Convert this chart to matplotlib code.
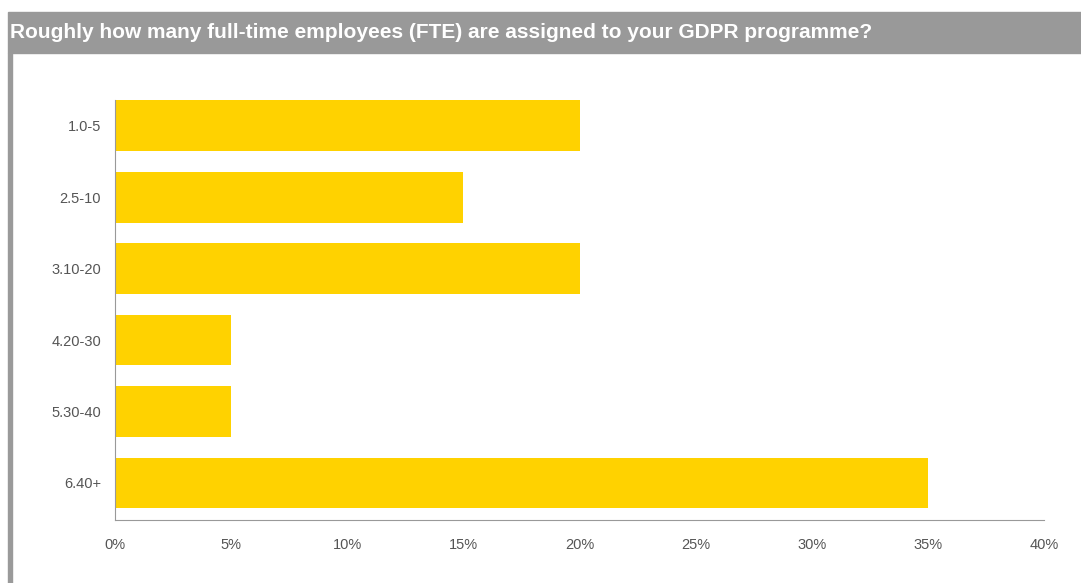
import matplotlib.pyplot as plt
from matplotlib.patches import Rectangle

# survey answers, share of respondents (%)
categories = ["1.0-5", "2.5-10", "3.10-20", "4.20-30", "5.30-40", "6.40+"]
shares = [20, 15, 20, 5, 5, 35]
x_ticks = [0, 5, 10, 15, 20, 25, 30, 35, 40]
title = "Roughly how many full-time employees (FTE) are assigned to your GDPR programme?"

plt.rcParams["font.family"] = ["Liberation Sans", "DejaVu Sans"]

W, H = 1081, 583
fig = plt.figure(figsize=(W / 100, H / 100), dpi=100)

# panel frame: grey header strip and left border
fig.patches.append(Rectangle((8 / W, 1 - 53 / H), 1 - 8 / W, 41 / H,
                             transform=fig.transFigure, color="#999999", zorder=0))
fig.patches.append(Rectangle((8 / W, 0), 4 / W, 1 - 53 / H,
                             transform=fig.transFigure, color="#9a9a9a", zorder=0))
fig.text(10 / W, 1 - 33 / H, title, color="white", fontsize=15, fontweight="bold",
         va="center", ha="left")

ax = fig.add_axes([115 / W, 1 - 520 / H, (1044 - 115) / W, 420 / H])
ax.barh(range(len(categories)), shares, height=0.71, color="#FFD200")
ax.set_ylim(5.52, -0.36)
ax.set_xlim(0, 40)
ax.set_yticks(range(len(categories)))
ax.set_yticklabels(categories)
ax.set_xticks(x_ticks)
ax.set_xticklabels([f"{t}%" for t in x_ticks])
ax.tick_params(length=0, labelsize=10.5, colors="#555555")
ax.tick_params(axis="x", pad=13)
ax.tick_params(axis="y", pad=10)
for side in ["top", "right"]:
    ax.spines[side].set_visible(False)
for side in ["left", "bottom"]:
    ax.spines[side].set_color("#999999")

fig.savefig("out.png", dpi=100)
